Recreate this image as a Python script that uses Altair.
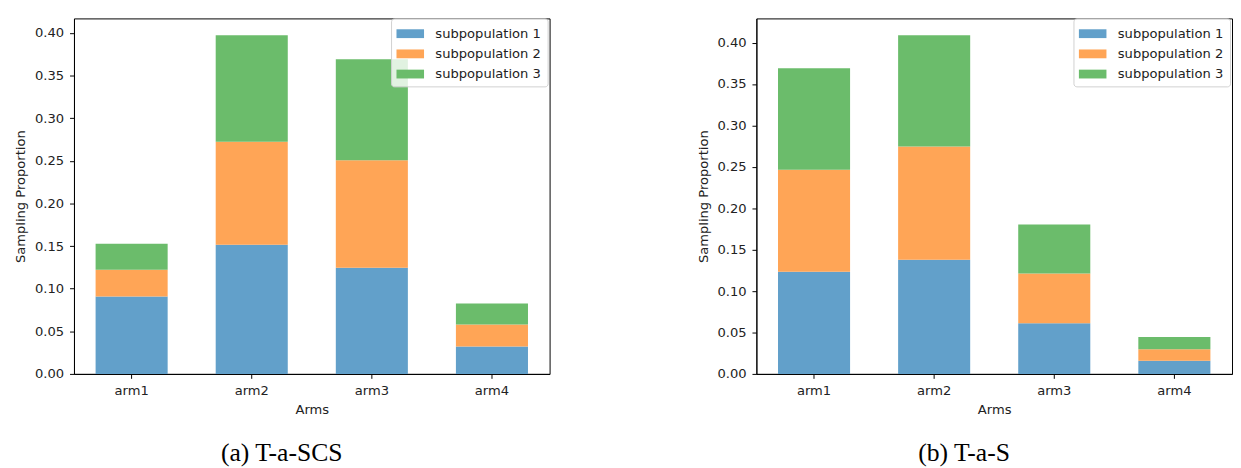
import altair as alt
import pandas as pd

arms = ["arm1", "arm2", "arm3", "arm4"]
groups = ["subpopulation 1", "subpopulation 2", "subpopulation 3"]
colors = ["#62a0ca", "#ffa556", "#6bbc6b"]

# (a) T-a-SCS
a_sub1 = [0.0908, 0.1515, 0.1246, 0.0323]
a_sub2 = [0.0315, 0.1208, 0.1262, 0.0258]
a_sub3 = [0.0304, 0.1250, 0.1184, 0.0246]

# (b) T-a-S
b_sub1 = [0.1234, 0.1377, 0.0613, 0.0158]
b_sub2 = [0.1231, 0.1369, 0.0598, 0.0139]
b_sub3 = [0.1226, 0.1341, 0.0593, 0.0150]

y_ticks = [0.0, 0.05, 0.10, 0.15, 0.20, 0.25, 0.30, 0.35, 0.40]


def make_df(s1, s2, s3):
    rows = []
    for gi, (g, vals) in enumerate(zip(groups, [s1, s2, s3])):
        for a, v in zip(arms, vals):
            rows.append({"arm": a, "group": g, "order": gi, "value": v})
    return pd.DataFrame(rows)


def panel(df, caption, ymax):
    return (
        alt.Chart(df)
        .mark_bar()
        .encode(
            x=alt.X(
                "arm:N",
                sort=arms,
                title="Arms",
                scale=alt.Scale(paddingInner=0.4, paddingOuter=0.18),
                axis=alt.Axis(labelAngle=0, labelPadding=5, titlePadding=6),
            ),
            y=alt.Y(
                "value:Q",
                stack="zero",
                title="Sampling Proportion",
                scale=alt.Scale(domain=[0, ymax], nice=False, zero=True),
                axis=alt.Axis(values=y_ticks, format=".2f", labelPadding=6, titlePadding=7),
            ),
            color=alt.Color(
                "group:N",
                scale=alt.Scale(domain=groups, range=colors),
                legend=alt.Legend(
                    title=None,
                    orient="none",
                    legendX=322,
                    legendY=0,
                    padding=6,
                    fillColor="rgba(255,255,255,0.8)",
                    strokeColor="#d0d0d0",
                    cornerRadius=3,
                    symbolType="M-1.5,-0.48H1.5V0.48H-1.5Z",
                    symbolSize=348,
                    symbolOffset=4,
                    symbolStrokeWidth=0,
                    symbolOpacity=1,
                    labelFont="DejaVu Sans",
                    labelFontSize=13.3,
                    labelColor="#222",
                    labelOffset=16,
                    rowPadding=4.5,
                ),
            ),
            order=alt.Order("order:Q", sort="ascending"),
        )
        .properties(
            width=483,
            height=361,
            title=alt.TitleParams(
                caption,
                orient="bottom",
                anchor="middle",
                frame="bounds",
                font="Liberation Serif",
                fontSize=26,
                fontWeight="normal",
                color="black",
                offset=25,
            ),
        )
    )


df_a = make_df(a_sub1, a_sub2, a_sub3)
df_b = make_df(b_sub1, b_sub2, b_sub3)
ymax_a = max(x + y + z for x, y, z in zip(a_sub1, a_sub2, a_sub3)) * 1.05
ymax_b = max(x + y + z for x, y, z in zip(b_sub1, b_sub2, b_sub3)) * 1.05

chart = (
    alt.hconcat(panel(df_a, "(a) T-a-SCS", ymax_a), panel(df_b, "(b) T-a-S", ymax_b), spacing=147)
    .resolve_legend(color="independent")
    .resolve_scale(color="independent", y="independent")
    .configure(padding={"left": 5, "top": 6, "right": 0, "bottom": 0})
    .configure_view(stroke="black", strokeWidth=1)
    .configure_axis(
        grid=False,
        domainColor="black",
        domainWidth=1,
        tickColor="black",
        tickSize=4.5,
        tickWidth=1,
        labelFont="DejaVu Sans",
        labelFontSize=13.3,
        labelColor="#222",
        titleFont="DejaVu Sans",
        titleFontSize=13.3,
        titleFontWeight="normal",
        titleColor="#222",
    )
)

chart.save("out.html", embed_options={"renderer": "svg", "actions": False})
